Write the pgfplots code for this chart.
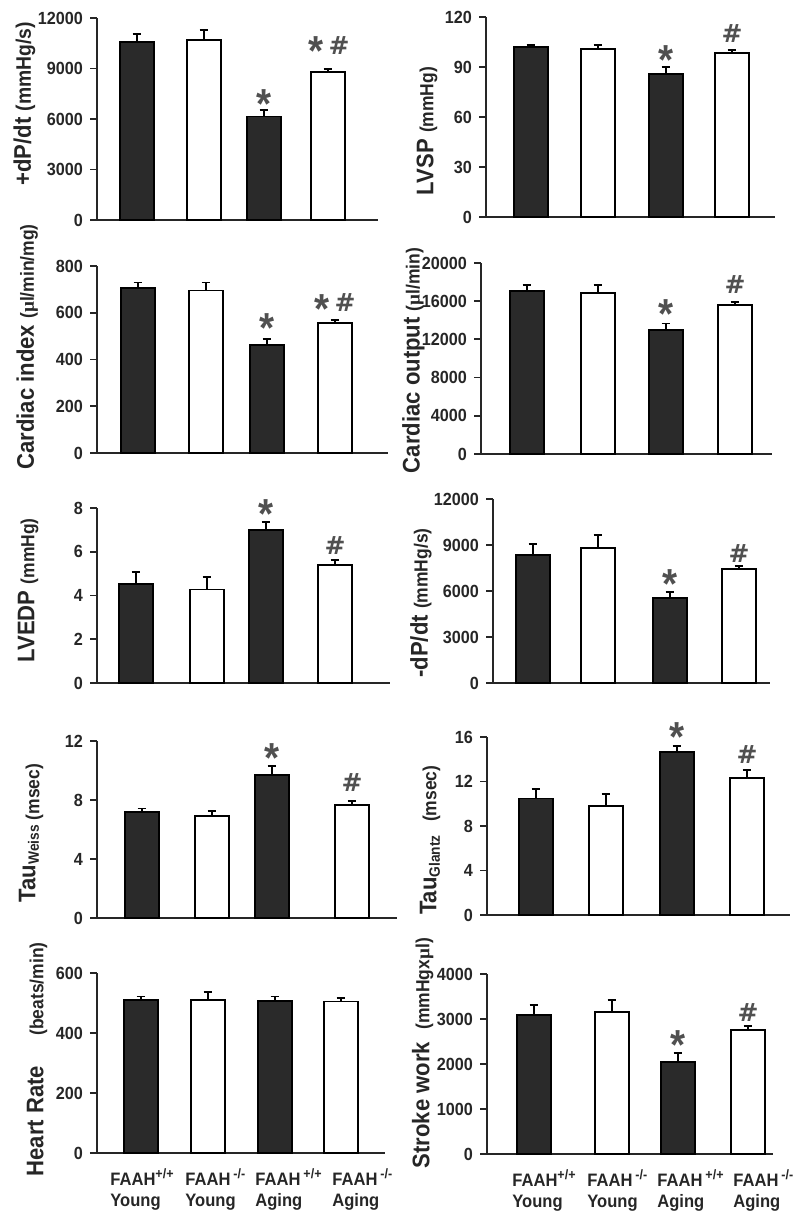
\documentclass[border=0pt]{standalone}
\usepackage{fontspec}
\setmainfont{Liberation Sans}[FakeStretch=0.92]
\newfontfamily\serifmu{Liberation Serif}
\newfontfamily\hashfont{DejaVu Sans}
\usepackage{pgfplots}
\pgfplotsset{compat=1.18}
\definecolor{axc}{HTML}{262626}
\definecolor{barc}{HTML}{2A2A2A}
\definecolor{symc}{HTML}{505050}
\newcommand{\tf}{\fontsize{8.8}{10}\selectfont\bfseries}
\newcommand{\lf}{\fontsize{12}{14}\selectfont\bfseries}
\newcommand{\uf}{\fontsize{9.5}{11}\selectfont\bfseries}
\newcommand{\um}{{\serifmu µ}}
\tikzset{
  star/.style={anchor=north, inner sep=0pt, text=symc, font=\fontsize{21}{21}\selectfont\bfseries},
  hash/.style={anchor=north, inner sep=0pt, text=symc, font=\hashfont\fontsize{12.5}{14}\selectfont\bfseries},
}
\pgfplotsset{
  panel/.style={scale only axis, clip=false, ymin=0,
    axis x line*=bottom, axis y line*=left,
    axis line style={-, line width=0.9pt, draw=axc},
    xtick=\empty, tick align=outside, major tick length=3.5pt,
    ytick style={line width=0.9pt, draw=axc},
    every tick label/.append style={font=\tf, text=axc},
    yticklabel={\pgfmathtruncatemacro\tk{\tick}\bfseries\tk},
    scaled y ticks=false,
    /pgf/number format/1000 sep={},
    /pgf/number format/assume math mode=true,
    ylabel style={anchor=center, font=\lf, text=axc},
  },
  blk/.style={ybar, bar shift=0pt, bar width=17pt, fill=barc, draw=black, line width=0.9pt,
    error bars/.cd, y dir=plus, y explicit,
    error bar style={line width=0.9pt, draw=black},
    error mark options={rotate=90, mark size=2.2pt, line width=0.9pt, draw=black}},
  wht/.style={ybar, bar shift=0pt, bar width=17pt, fill=white, draw=black, line width=0.9pt,
    error bars/.cd, y dir=plus, y explicit,
    error bar style={line width=0.9pt, draw=black},
    error mark options={rotate=90, mark size=2.2pt, line width=0.9pt, draw=black}},
  bottomrow/.style={major x tick style={draw=none},
    xticklabel style={anchor=north west, inner sep=0pt, yshift=-4pt, align=left,
      font=\fontsize{9}{10.5}\selectfont\bfseries, text=axc}},
}
\newcommand{\supp}[1]{\textsuperscript{\fontsize{6.8}{7}\selectfont #1}}
\begin{document}
\begin{tikzpicture}
\useasboundingbox (0,0) rectangle (400pt,607.5pt);

% P1 +dP/dt
\begin{axis}[panel, at={(48.5pt,497.5pt)}, anchor=origin, width=140.5pt, height=101pt,
  xmin=97, xmax=378, ymax=12000, ytick={0,3000,6000,9000,12000},
  ylabel={+dP/dt {\fontsize{10.5}{12}\selectfont(mmHg/s)}}, ylabel style={at={(axis description cs:-0.258,0.575)}}]
\addplot[blk] table[x=x,y=y,y error=e]{x y e
137 10570 480
264 6150 395
};
\addplot[wht] table[x=x,y=y,y error=e]{x y e
204 10710 556
328 8770 215
};
\node[star] at (axis cs:264,7775) {*};
\node[star, xshift=-6pt] at (axis cs:328,10930) {*};
\node[hash, xshift=5.5pt] at (axis cs:328,10950) {\#};
\end{axis}

% P2 LVSP
\begin{axis}[panel, at={(243pt,499pt)}, anchor=origin, width=144.5pt, height=100pt,
  xmin=486, xmax=775, ymax=120, ytick={0,30,60,90,120},
  ylabel={LVSP {\uf(mmHg)}}, ylabel style={at={(axis description cs:-0.204,0.43)}}]
\addplot[blk] table[x=x,y=y,y error=e]{x y e
531 102 1.4
666 86 4
};
\addplot[wht] table[x=x,y=y,y error=e]{x y e
598 101 2.4
732 98.6 1.4
};
\node[star] at (axis cs:666,103) {*};
\node[hash] at (axis cs:732,115.6) {\#};
\end{axis}

% P3 Cardiac index
\begin{axis}[panel, at={(48.5pt,381pt)}, anchor=origin, width=145.5pt, height=93.5pt,
  xmin=97, xmax=388, ymax=800, ytick={0,200,400,600,800},
  ylabel={Cardiac index {\uf(\um l/min/mg)}}, ylabel style={at={(axis description cs:-0.24,0.567)}}]
\addplot[blk] table[x=x,y=y,y error=e]{x y e
138 705 24
267 462 25
};
\addplot[wht] table[x=x,y=y,y error=e]{x y e
206 695 34
335 555 13
};
\node[star] at (axis cs:267,598) {*};
\node[star, xshift=-6pt] at (axis cs:334,681) {*};
\node[hash, xshift=5.5pt] at (axis cs:334,683) {\#};
\end{axis}

% P4 Cardiac output
\begin{axis}[panel, at={(240.5pt,380.5pt)}, anchor=origin, width=145.5pt, height=95.5pt,
  xmin=481, xmax=772, ymax=20000, ytick={0,4000,8000,12000,16000,20000},
  ylabel={Cardiac output {\uf(\um l/min)}}, ylabel style={at={(axis description cs:-0.232,0.49)}}]
\addplot[blk] table[x=x,y=y,y error=e]{x y e
527 17070 630
666 12960 700
};
\addplot[wht] table[x=x,y=y,y error=e]{x y e
598 16860 840
735 15575 350
};
\node[star] at (axis cs:666,16167) {*};
\node[hash] at (axis cs:735,18711) {\#};
\end{axis}

% P5 LVEDP
\begin{axis}[panel, at={(48.5pt,266pt)}, anchor=origin, width=146.5pt, height=87.5pt,
  xmin=97, xmax=390, ymax=8, ytick={0,2,4,6,8},
  ylabel={LVEDP {\uf(mmHg)}}, ylabel style={at={(axis description cs:-0.235,0.53)}}]
\addplot[blk] table[x=x,y=y,y error=e]{x y e
136 4.54 0.55
266 6.98 0.38
};
\addplot[wht] table[x=x,y=y,y error=e]{x y e
207 4.27 0.58
335 5.41 0.23
};
\node[star] at (axis cs:266,8.41) {*};
\node[hash] at (axis cs:335,6.7) {\#};
\end{axis}

% P6 -dP/dt
\begin{axis}[panel, at={(246.5pt,266pt)}, anchor=origin, width=138.5pt, height=92pt,
  xmin=493, xmax=770, ymax=12000, ytick={0,3000,6000,9000,12000},
  ylabel={-dP/dt {\uf(mmHg/s)}}, ylabel style={at={(axis description cs:-0.26,0.435)}}]
\addplot[blk] table[x=x,y=y,y error=e]{x y e
533 8330 760
670 5540 390
};
\addplot[wht] table[x=x,y=y,y error=e]{x y e
598 8800 830
739 7460 170
};
\node[star] at (axis cs:670,7391) {*};
\node[hash] at (axis cs:739,9087) {\#};
\end{axis}

% P7 Tau Weiss
\begin{axis}[panel, at={(48.5pt,148.5pt)}, anchor=origin, width=150pt, height=88.5pt,
  xmin=97, xmax=397, ymax=12, ytick={0,4,8,12},
  ylabel={Tau\textsubscript{\fontsize{7.5}{8}\selectfont Weiss}\,\raisebox{-2pt}{\uf(msec)}}, ylabel style={at={(axis description cs:-0.22,0.48)}}]
\addplot[blk] table[x=x,y=y,y error=e]{x y e
142 7.19 0.23
272 9.67 0.63
};
\addplot[wht] table[x=x,y=y,y error=e]{x y e
212 6.92 0.33
352 7.64 0.27
};
\node[star] at (axis cs:272,11.86) {*};
\node[hash] at (axis cs:352,9.79) {\#};
\end{axis}

% P8 Tau Glantz
\begin{axis}[panel, at={(243.5pt,150pt)}, anchor=origin, width=151.5pt, height=89pt,
  xmin=487, xmax=790, ymax=16, ytick={0,4,8,12,16},
  ylabel={Tau\textsubscript{\fontsize{7.5}{8}\selectfont Glantz}\ \ {\uf(msec)}}, ylabel style={at={(axis description cs:-0.188,0.42)}}]
\addplot[blk] table[x=x,y=y,y error=e]{x y e
536 10.48 0.84
677 14.65 0.51
};
\addplot[wht] table[x=x,y=y,y error=e]{x y e
606 9.82 1.08
747 12.28 0.72
};
\node[star] at (axis cs:677,17.3) {*};
\node[hash] at (axis cs:747,15.3) {\#};
\end{axis}

% P9 Heart Rate
\begin{axis}[panel, bottomrow, at={(48.5pt,31pt)}, anchor=origin, width=144pt, height=90pt,
  xmin=97, xmax=385, ymax=600, ytick={0,200,400,600},
  xtick={110,185,255,332},
  xticklabels={{FAAH\supp{+/+}\\Young},{FAAH\,\supp{-/-}\\Young},{FAAH\,\supp{+/+}\\Aging},{FAAH\,\supp{-/-}\\Aging}},
  ylabel={Heart Rate\quad\ {\uf(beats/min)}}, ylabel style={at={(axis description cs:-0.208,0.52)}}]
\addplot[blk] table[x=x,y=y,y error=e]{x y e
141 511 11
275 507 15
};
\addplot[wht] table[x=x,y=y,y error=e]{x y e
208 510 27
341 505 13
};
\end{axis}

% P10 Stroke work
\begin{axis}[panel, bottomrow, at={(243.5pt,30.5pt)}, anchor=origin, width=143pt, height=90pt,
  xmin=487, xmax=773, ymax=4000, ytick={0,1000,2000,3000,4000},
  xtick={512,587,657,733},
  xticklabels={{FAAH\supp{+/+}\\Young},{FAAH\,\supp{-/-}\\Young},{FAAH\,\supp{+/+}\\Aging},{FAAH\,\supp{-/-}\\Aging}},
  ylabel={Stroke work\ \ {\uf(mmHgx\um l)}}, ylabel style={at={(axis description cs:-0.225,0.56)}}]
\addplot[blk] table[x=x,y=y,y error=e]{x y e
534 3089 222
678 2052 185
};
\addplot[wht] table[x=x,y=y,y error=e]{x y e
612 3163 259
748 2756 88
};
\node[star] at (axis cs:678,2755) {*};
\node[hash] at (axis cs:748,3348) {\#};
\end{axis}
\end{tikzpicture}
\end{document}
